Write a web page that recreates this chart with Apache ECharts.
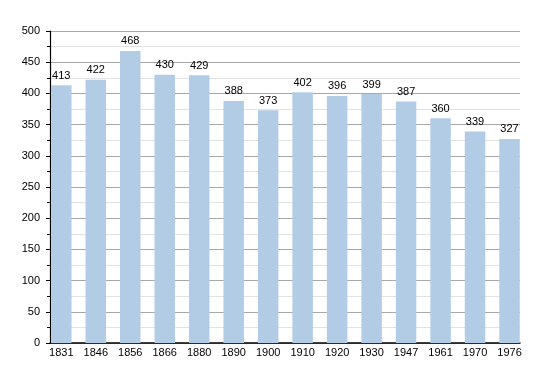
<!DOCTYPE html>
<html>
<head>
<meta charset="utf-8">
<script src="https://cdn.jsdelivr.net/npm/echarts@6/dist/echarts.min.js"></script>
<style>html,body{margin:0;padding:0;background:#fff}#c{width:550px;height:373px}</style>
</head>
<body>
<div id="c"></div>
<script>
const categories = ['1831','1846','1856','1866','1880','1890','1900','1910','1920','1930','1947','1961','1970','1976'];
const population = [413,422,468,430,429,388,373,402,396,399,387,360,339,327];

const chart = echarts.init(document.getElementById('c'), null, {renderer: 'canvas'});
chart.setOption({
  animation: false,
  backgroundColor: '#ffffff',
  grid: [
    {left: 50, right: 30, top: 31, bottom: 30},
    {left: 44.06, right: 23.24, top: 31, bottom: 30}
  ],
  xAxis: [
    {gridIndex: 0, type: 'value', min: 0, max: 1,
     axisLine: {show: true, lineStyle: {color: '#000', width: 1.5}},
     axisTick: {show: false}, axisLabel: {show: false}, splitLine: {show: false}},
    {gridIndex: 1, type: 'category', data: categories,
     axisLine: {show: false}, axisTick: {show: false}, splitLine: {show: false},
     axisLabel: {color: '#000', fontFamily: 'Liberation Sans Narrow, Arial Narrow, sans-serif', fontSize: 11, margin: 4, interval: 0}}
  ],
  yAxis: [
    {gridIndex: 0, type: 'value', min: 0, max: 500, interval: 50,
     axisLine: {show: true, lineStyle: {color: '#000', width: 1.2}},
     axisTick: {show: true, length: 4, lineStyle: {color: '#000'}},
     minorTick: {show: true, splitNumber: 2, length: 3, lineStyle: {color: '#000'}},
     axisLabel: {color: '#000', fontFamily: 'Liberation Sans, Arial, sans-serif', fontSize: 11, margin: 10},
     splitLine: {show: true, lineStyle: {color: '#a8a8a8', width: 1}},
     minorSplitLine: {show: true, lineStyle: {color: '#e2e2e2', width: 1}}},
    {gridIndex: 1, type: 'value', min: 0, max: 500, interval: 50, show: false}
  ],
  series: [{
    type: 'bar', xAxisIndex: 1, yAxisIndex: 1,
    data: population, barWidth: 20.5,
    itemStyle: {color: '#b3cce6'},
    label: {show: true, position: 'top', distance: 4, color: '#000',
            fontFamily: 'Liberation Sans Narrow, Arial Narrow, sans-serif', fontSize: 11}
  }]
});
</script>
</body>
</html>
